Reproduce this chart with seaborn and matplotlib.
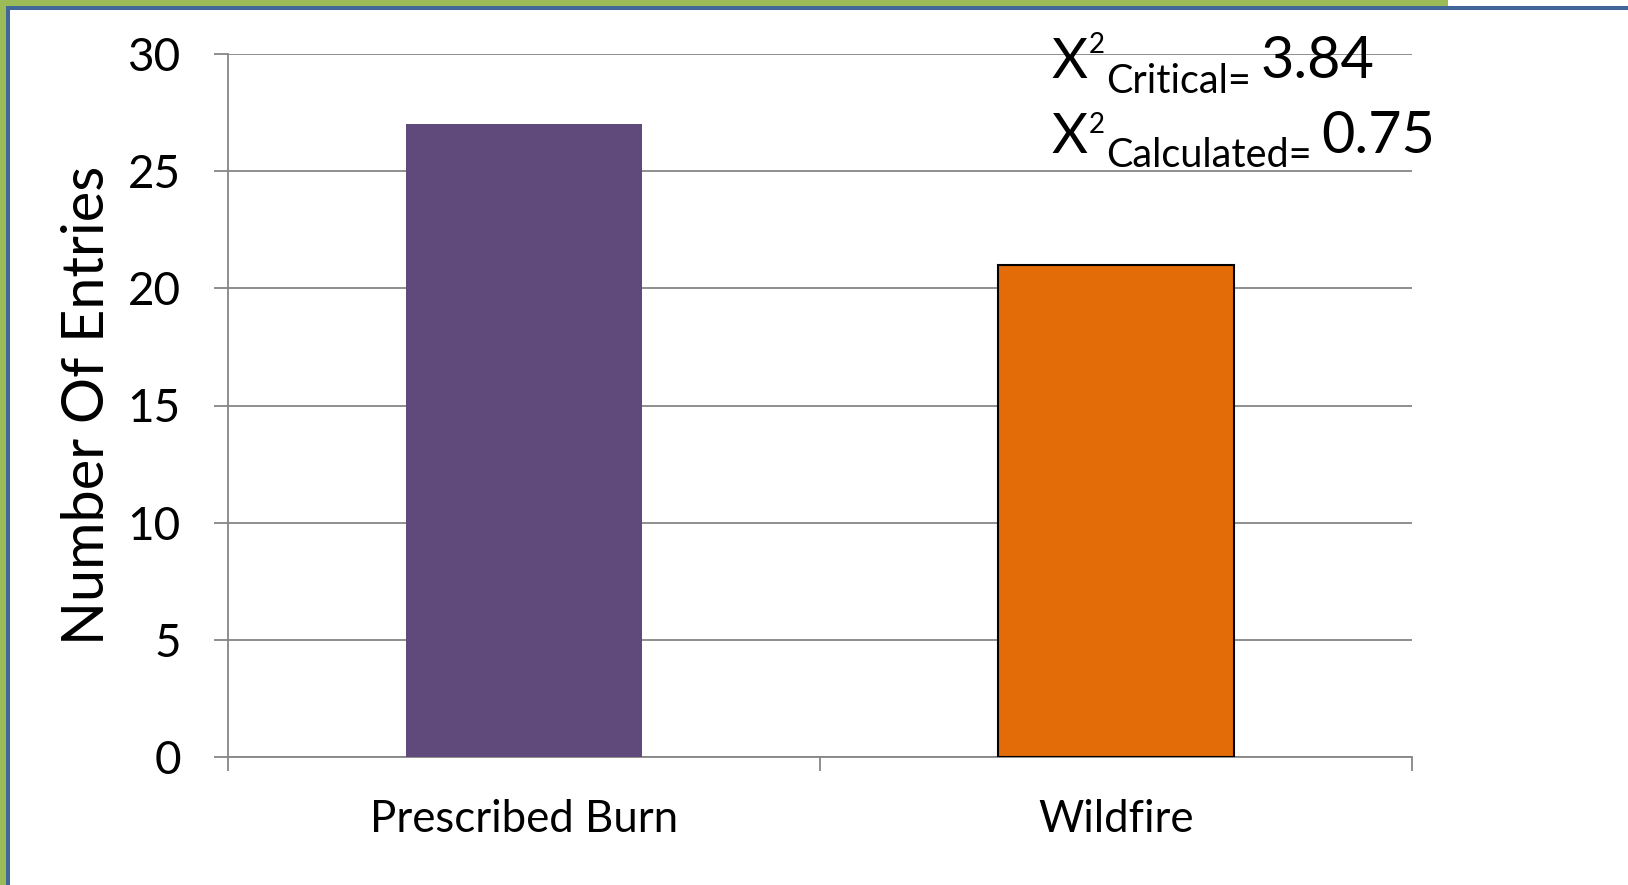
import numpy as np
import pandas as pd
import matplotlib
matplotlib.use("Agg")
import matplotlib.pyplot as plt
import seaborn as sns
from matplotlib.patches import Rectangle

# ── Data ────────────────────────────────────────────────────────────────────
categories = ["Prescribed Burn", "Wildfire"]
entries = [27, 21]
bar_colors = ["#604A7B", "#E36C09"]
y_ticks = [0, 5, 10, 15, 20, 25, 30]
chi_critical = "3.84"
chi_calculated = "0.75"

W, H = 1628, 885

sns.set_theme(style="white")
plt.rcParams["font.family"] = ["Lato", "DejaVu Sans"]

fig = plt.figure(figsize=(W / 100, H / 100), dpi=100)
fig.patch.set_facecolor("white")
ax = fig.add_axes([228 / W, 1 - 757 / H, 1184 / W, (757 - 54) / H])

df = pd.DataFrame({"category": categories, "entries": entries})
sns.barplot(data=df, x="category", y="entries", hue="category",
            palette=bar_colors, saturation=1, width=0.4, legend=False,
            ax=ax, zorder=3)

# only the wildfire bar has a black outline in the original
ax.patches[0].set_edgecolor("none")
ax.patches[1].set_edgecolor("black")
ax.patches[1].set_linewidth(1.5)

grid_color = "#868686"
ax.set_ylim(0, 30)
ax.set_xlim(-0.5, 1.5)
ax.set_yticks(y_ticks)
ax.yaxis.grid(True, color=grid_color, linewidth=1.3, zorder=0)
ax.set_axisbelow(True)
for side in ["top", "right"]:
    ax.spines[side].set_visible(False)
for side in ["left", "bottom"]:
    ax.spines[side].set_color(grid_color)
    ax.spines[side].set_linewidth(1.3)

ax.tick_params(axis="y", which="major", length=10, width=1.3, color=grid_color,
               labelsize=33, pad=24, left=True)
ax.set_xticks([0, 1])
ax.set_xticklabels(categories)
ax.tick_params(axis="x", which="major", length=0, labelsize=31.5, pad=30)
ax.set_xticks([-0.5, 0.5, 1.5], minor=True)
ax.tick_params(axis="x", which="minor", length=10, width=1.3, color=grid_color,
               bottom=True, direction="out")
for lbl in ax.get_yticklabels() + ax.get_xticklabels():
    lbl.set_color("black")

ax.set_xlabel("")
ax.set_ylabel("Number Of Entries", fontsize=41.5, color="black", labelpad=10)

# ── Chi-square annotation: pieces chained left to right ─────────────────────
renderer = fig.canvas.get_renderer()


def chain(x0, pieces):
    # pieces: (text, size, baseline y in px from top, gap before in px)
    x = x0
    for s, size, y, gap in pieces:
        x += gap
        t = fig.text(x / W, 1 - y / H, s, fontsize=size, va="baseline",
                     ha="left", color="black")
        x = t.get_window_extent(renderer).x1


chain(1051, [("X", 40, 78, 0), ("2", 20, 53, 2),
             ("Critical=", 28.5, 93, 1), (chi_critical, 41.5, 78, 10)])
chain(1051, [("X", 40, 153, 0), ("2", 20, 133, 2),
             ("Calculated=", 28.5, 167, 1), (chi_calculated, 41.5, 153, 10)])

# ── Slide frame: green band with blue line at the top and left ─────────────
green, blue = "#9BBB59", "#41679A"
frame = [
    (0, 0, 1448, 6, green),
    (0, 0, 6, H, green),
    (6, 6, W - 6, 4, blue),
    (6, 6, 4, H - 6, blue),
]
for x, y, w, h, c in frame:
    fig.patches.append(Rectangle((x / W, 1 - (y + h) / H), w / W, h / H,
                                 transform=fig.transFigure, color=c,
                                 linewidth=0, zorder=10))

fig.savefig("out.png", dpi=100, facecolor="white")
